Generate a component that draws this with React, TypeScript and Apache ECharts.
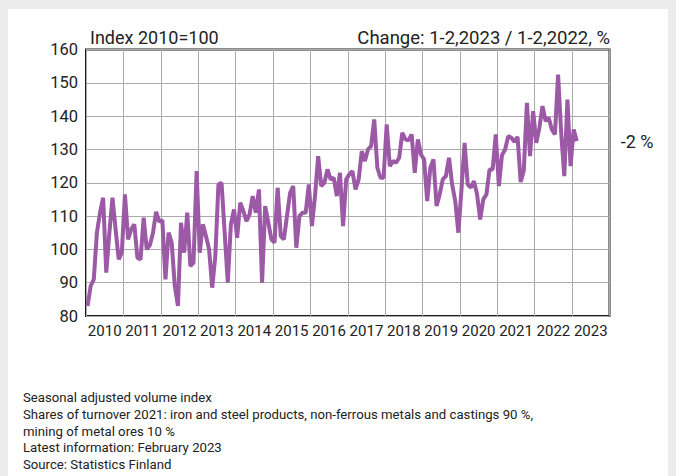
import React, { useEffect, useRef } from "react";
import * as echarts from "echarts";

const years = ["2010","2011","2012","2013","2014","2015","2016","2017","2018","2019","2020","2021","2022","2023"];

// Monthly seasonally adjusted volume index, Jan 2010 – Feb 2023
const values2010_2012 = [
  83, 89, 91, 105, 111, 115.5, 93, 105, 115.5, 106, 97, 99,
  116.5, 103, 106, 107.5, 97.5, 97, 109.5, 100, 101.3, 105, 111.3, 108.3,
  108.8, 91, 105, 102, 89, 83, 108, 99, 111, 95, 96, 123.5,
];
const values2013_2015 = [
  99, 107.5, 104, 100, 88.5, 98, 119.5, 120, 105, 90, 107.5, 112,
  103.5, 114, 111.5, 108.5, 110.5, 116, 111, 118, 90, 113, 108, 103,
  102, 118.5, 104, 103, 110, 117, 119, 100.5, 110, 111, 111, 119.5,
];
const values2016_2018 = [
  107, 116, 128, 119, 120, 124, 121, 121.5, 116, 123, 107, 121,
  122.5, 123.5, 118, 121, 129.5, 126.5, 130, 131, 139, 124.5, 121.5, 121.5,
  137.5, 125, 126.5, 126, 127.5, 135, 133, 132.7, 134.5, 123, 133, 128.5,
];
const values2019_2021 = [
  127, 114.5, 124.5, 127, 113, 116.5, 121, 122, 127.5, 119.5, 114.5, 105,
  118, 132, 119.5, 118.5, 120.5, 116.5, 109, 115, 116.5, 124, 124, 134.5,
  119, 128.3, 130, 134, 133.5, 132.3, 133.8, 120.2, 123.7, 144, 128, 141.5,
];
const values2022_2023 = [
  132, 136.5, 143, 138.5, 139.5, 136, 134.5, 152.5, 135, 122, 145, 125,
  136, 132.5,
];
const values = [...values2010_2012, ...values2013_2015, ...values2016_2018, ...values2019_2021, ...values2022_2023];

const yTicks = [80, 90, 100, 110, 120, 130, 140, 150, 160];

const titleLeft = "Index 2010=100";
const titleRight = "Change: 1-2,2023 / 1-2,2022, %";
const changeLabel = "-2 %";
const footerLines = [
  "Seasonal adjusted volume index",
  "Shares of turnover 2021: iron and steel products, non-ferrous metals and castings 90 %,",
  "mining of metal ores 10 %",
  "Latest information: February 2023",
  "Source: Statistics Finland",
];

const FONT = "Roboto, 'Noto Sans', sans-serif";

export default function App() {
  const ref = useRef<HTMLDivElement>(null);
  useEffect(() => {
    if (!ref.current) return;
    const chart = echarts.init(ref.current, undefined, { renderer: "svg" });
    const lastIdx = values.length - 1;
    chart.setOption({
      animation: false,
      grid: {
        left: 86, right: 66.5, top: 49.5, bottom: 160,
        show: true, borderColor: "#1a1a1a", borderWidth: 2, backgroundColor: "transparent",
      },
      xAxis: [
        {
          type: "value", min: 0, max: years.length * 12, interval: 12,
          axisLine: { show: false }, axisTick: { show: false }, axisLabel: { show: false },
          splitLine: { show: true, lineStyle: { color: "#ababab", width: 1 } },
        },
        {
          type: "category", data: years, boundaryGap: true, position: "bottom",
          axisLine: { show: false }, axisTick: { show: false },
          axisLabel: { fontSize: 15, color: "#222", margin: 7, fontFamily: FONT, interval: 0 },
          splitLine: { show: false },
        },
      ],
      yAxis: {
        type: "value", min: yTicks[0], max: yTicks[yTicks.length - 1], interval: 10,
        axisLine: { show: false }, axisTick: { show: false },
        axisLabel: { fontSize: 16.5, color: "#222", margin: 8, fontFamily: FONT },
        splitLine: { show: true, lineStyle: { color: "#ababab", width: 1 } },
      },
      series: [
        {
          type: "line", xAxisIndex: 0, yAxisIndex: 0,
          data: values.map((v, i) => [i + 0.5, v]),
          showSymbol: false, symbol: "none",
          lineStyle: { color: "#9b59a6", width: 4 },
          z: 3,
        },
        {
          type: "line", xAxisIndex: 0, yAxisIndex: 0,
          data: [[lastIdx + 0.5, values[lastIdx]]],
          showSymbol: false, symbol: "none",
          lineStyle: { opacity: 0 },
          endLabel: {
            show: true, formatter: changeLabel, fontSize: 18, color: "#222", fontFamily: FONT,
            distance: 44,
          },
        },
      ],
      graphic: [
        { type: "text", left: 90, top: 28, style: { text: titleLeft, fontSize: 18, fill: "#222", fontFamily: FONT } },
        { type: "text", right: 66, top: 28, style: { text: titleRight, fontSize: 18.5, fill: "#222", fontFamily: FONT } },
        ...footerLines.map((t, i) => ({
          type: "text", left: 23, top: 391 + i * 16.8,
          style: { text: t, fontSize: 13.2, fill: "#222", fontFamily: FONT },
        })),
      ],
    });
    return () => chart.dispose();
  }, []);
  return (
    <div style={{ position: "fixed", left: 0, top: 0, width: 676, height: 476, background: "#ececec" }}>
      <div style={{ position: "absolute", left: 8, top: 9, width: 660, height: 467, background: "#ffffff" }} />
      <div ref={ref} style={{ position: "absolute", left: 0, top: 0, width: 676, height: 476 }} />
    </div>
  );
}
